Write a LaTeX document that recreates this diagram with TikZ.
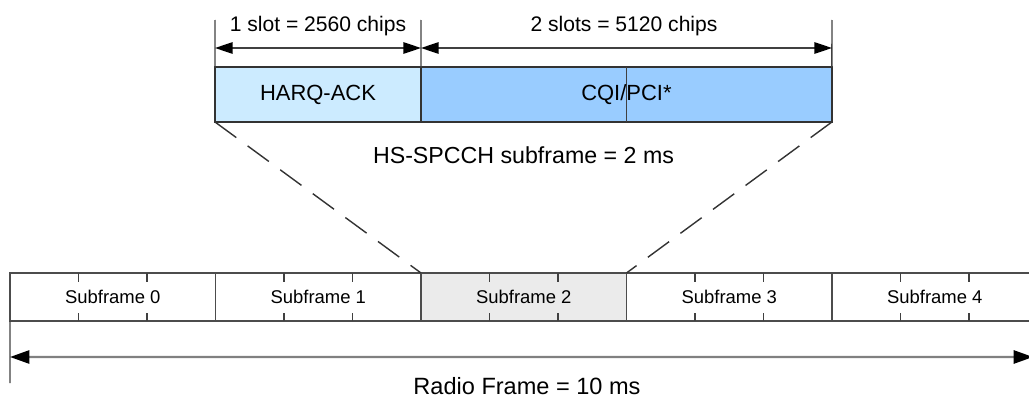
\documentclass[tikz,border=0pt]{standalone}
\usepackage{fontspec}
\setmainfont{Liberation Sans}
\usetikzlibrary{arrows.meta,positioning,calc}
\definecolor{ackkek}{HTML}{CCEBFF}
\definecolor{cqikek}{HTML}{99CCFF}
\definecolor{szurke}{HTML}{EBEBEB}
\tikzset{
  mezo/.style={draw=black!80,line width=0.8pt,inner sep=0pt,outer sep=0pt,
    minimum height=1.1cm,font=\fontsize{12.5}{15}\selectfont},
  alkeret/.style={draw=black!70,line width=0.8pt,inner sep=0pt,outer sep=0pt,
    minimum width=4.11cm,minimum height=0.96cm,font=\fontsize{10.5}{12}\selectfont},
  hal/.style={draw=black!75,line width=0.8pt},
  meret/.style={draw=black!75,line width=0.9pt,
    {Triangle[length=10pt,width=6.5pt,color=black]}-{Triangle[length=10pt,width=6.5pt,color=black]}},
  nagymeret/.style={draw=black!50,line width=1.2pt,
    {Triangle[length=11pt,width=7.5pt,color=black]}-{Triangle[length=11pt,width=7.5pt,color=black]}},
  szagg/.style={draw=black!80,line width=0.8pt,dash pattern=on 15pt off 8pt},
  cimke/.style={inner sep=0pt,font=\fontsize{12}{14}\selectfont},
  felirat/.style={inner sep=0pt,font=\fontsize{13.2}{16}\selectfont},
}
\begin{document}
\begin{tikzpicture}[x=0.02cm,y=-0.02cm]
  \useasboundingbox (0,0) rectangle (1029,399);
  % felso mezok
  \node[mezo,fill=ackkek,minimum width=4.12cm] (harq) at (318,94.5) {HARQ-ACK};
  \node[mezo,fill=cqikek,minimum width=8.22cm,right=0pt of harq] (cqi) {};
  \draw[hal] (cqi.north) -- (cqi.south);
  \node[inner sep=0pt,font=\fontsize{12.5}{15}\selectfont] (cqitxt) at (cqi) {CQI/PCI*};
  % meretvonalak
  \coordinate (m0) at (215,20); \coordinate (m1) at (421,20); \coordinate (m2) at (832,20);
  \draw[hal] (m0) -- (harq.north west);
  \draw[hal] (m1) -- (harq.north east);
  \draw[hal] (m2) -- (cqi.north east);
  \draw[meret] ($(m0)+(0,28)$) -- ($(m1)+(0,28)$);
  \draw[meret] ($(m1)+(0,28)$) -- ($(m2)+(0,28)$);
  \node[cimke] (egy) at (318,26) {1 slot = 2560 chips};
  \node[cimke] (ketto) at (624,26) {2 slots = 5120 chips};
  \node[felirat] (hs) at (523.5,155) {HS-SPCCH subframe = 2 ms};
  % radio frame
  \foreach \k/\szin in {0/white,1/white,2/szurke,3/white,4/white}
    \node[alkeret,fill=\szin] (sf\k) at (112.75+205.5*\k,297) {Subframe \k};
  \foreach \k in {0,...,4} \foreach \t in {1,2} {
    \draw[hal] ($(sf\k.north west)!\t/3!(sf\k.north east)$) -- ++(0,9);
    \draw[hal] ($(sf\k.south west)!\t/3!(sf\k.south east)$) -- ++(0,-8);
  }
  \draw[szagg] (harq.south west) -- (sf2.north west);
  \draw[szagg] (cqi.south east) -- (sf2.north east);
  \coordinate (rf0) at (10,383);
  \coordinate (rf1) at (1033,357);
  \draw[hal] (sf0.south west) -- (rf0);
  \draw[nagymeret] ($(sf0.south west)+(0,36)$) -- (rf1);
  \node[felirat,font=\fontsize{13.4}{16}\selectfont] (rf) at (527,386) {Radio Frame = 10 ms};
\end{tikzpicture}
\end{document}
